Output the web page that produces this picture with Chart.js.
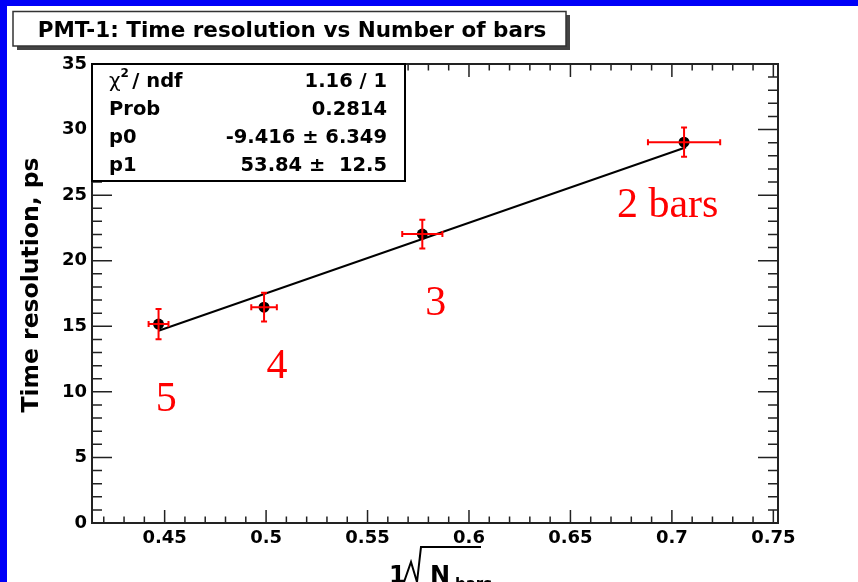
<!DOCTYPE html>
<html><head><meta charset="utf-8">
<script src="https://cdn.jsdelivr.net/npm/chart.js@4.4.1/dist/chart.umd.min.js"></script>
<style>html,body{margin:0;padding:0;background:#fff;overflow:hidden}canvas{display:block}</style>
</head><body>
<canvas id="c" width="858" height="582"></canvas>
<script>
// ---- data ----
const nBars     = [5, 4, 3, 2];
const invSqrtN  = [0.447, 0.499, 0.577, 0.706];
const timeRes   = [15.17, 16.46, 22.03, 29.04];
const xErr      = [0.0049, 0.0063, 0.0099, 0.0178];
const yErr      = [1.15, 1.09, 1.10, 1.12];
const fitX      = [0.447, 0.707];
const fitY      = [14.66, 28.65];
const xTicks    = [0.45, 0.5, 0.55, 0.6, 0.65, 0.7, 0.75];
const yTicks    = [0, 5, 10, 15, 20, 25, 30, 35];
const pointLabels = ['5', '4', '3', '2 bars'];
const pointLabelX = [0.4456, 0.5002, 0.5784, 0.6729];
const pointLabelY = [8.56, 11.07, 15.88, 23.35];
const statNames  = ['χ2 / ndf', 'Prob', 'p0', 'p1'];
const statValues = ['1.16 / 1', '0.2814', '-9.416 ± 6.349', '53.84 ±  12.5'];
const titleText  = 'PMT-1: Time resolution vs Number of bars';
const yTitle     = 'Time resolution, ps';

const FONT = "'DejaVu Sans', sans-serif";

const decor = {
  id: 'decor',
  beforeDraw(chart) {
    const ctx = chart.ctx;
    ctx.save();
    ctx.fillStyle = '#fff';
    ctx.fillRect(0, 0, chart.width, chart.height);
    ctx.fillStyle = '#0000f8';
    ctx.fillRect(0, 0, chart.width, 6);
    ctx.fillRect(0, 0, 7, chart.height);
    ctx.restore();
  },
  afterDatasetsDraw(chart) {
    const ctx = chart.ctx, xs = chart.scales.x, ys = chart.scales.y;
    const a = chart.chartArea;
    ctx.save();
    // error bars
    ctx.strokeStyle = '#ff0000';
    ctx.lineWidth = 2;
    for (let i = 0; i < invSqrtN.length; i++) {
      const px = xs.getPixelForValue(invSqrtN[i]);
      const py = ys.getPixelForValue(timeRes[i]);
      const x1 = xs.getPixelForValue(invSqrtN[i] - xErr[i]);
      const x2 = xs.getPixelForValue(invSqrtN[i] + xErr[i]);
      const y1 = ys.getPixelForValue(timeRes[i] - yErr[i]);
      const y2 = ys.getPixelForValue(timeRes[i] + yErr[i]);
      ctx.beginPath();
      ctx.moveTo(x1, py); ctx.lineTo(x2, py);
      ctx.moveTo(px, y1); ctx.lineTo(px, y2);
      ctx.moveTo(x1, py - 3); ctx.lineTo(x1, py + 3);
      ctx.moveTo(x2, py - 3); ctx.lineTo(x2, py + 3);
      ctx.moveTo(px - 3, y1); ctx.lineTo(px + 3, y1);
      ctx.moveTo(px - 3, y2); ctx.lineTo(px + 3, y2);
      ctx.stroke();
    }
    // frame
    ctx.strokeStyle = '#222';
    ctx.lineWidth = 2;
    ctx.strokeRect(a.left, a.top, a.right - a.left, a.bottom - a.top);
    // ticks
    ctx.lineWidth = 1.5;
    ctx.beginPath();
    for (let k = Math.ceil(xs.min / 0.01 - 1e-6); k * 0.01 <= xs.max + 1e-9; k++) {
      const p = xs.getPixelForValue(k * 0.01);
      const L = (k % 5 === 0) ? 13 : 6.5;
      ctx.moveTo(p, a.bottom); ctx.lineTo(p, a.bottom - L);
      ctx.moveTo(p, a.top); ctx.lineTo(p, a.top + L);
    }
    for (let k = Math.ceil(ys.min); k <= ys.max; k++) {
      const p = ys.getPixelForValue(k);
      const L = (k % 5 === 0) ? 20 : 10;
      ctx.moveTo(a.left, p); ctx.lineTo(a.left + L, p);
      ctx.moveTo(a.right, p); ctx.lineTo(a.right - L, p);
    }
    ctx.stroke();

    // point annotations
    ctx.fillStyle = '#ff0000';
    ctx.font = "42px 'Liberation Serif', 'Times New Roman', serif";
    ctx.textAlign = 'left';
    ctx.textBaseline = 'alphabetic';
    for (let i = 0; i < pointLabels.length; i++) {
      ctx.fillText(pointLabels[i], xs.getPixelForValue(pointLabelX[i]), ys.getPixelForValue(pointLabelY[i]));
    }

    // stats box
    const bx = a.left, by = a.top, bw = 313, bh = 117;
    ctx.fillStyle = '#fff';
    ctx.fillRect(bx, by, bw, bh);
    ctx.strokeStyle = '#000';
    ctx.lineWidth = 2;
    ctx.strokeRect(bx, by, bw, bh);
    ctx.fillStyle = '#000';
    const rowY = [87, 115, 143, 171];
    for (let i = 0; i < statNames.length; i++) {
      ctx.textAlign = 'left';
      if (i === 0) {
        ctx.font = "20px " + FONT;
        ctx.fillText('χ', 109, rowY[i]);
        const w = ctx.measureText('χ').width;
        ctx.font = "bold 12px " + FONT;
        ctx.fillText('2', 109 + w, rowY[i] - 10);
        ctx.font = "bold 19.5px " + FONT;
        ctx.fillText(' / ndf', 109 + w + 5, rowY[i]);
      } else {
        ctx.font = "bold 19.5px " + FONT;
        ctx.fillText(statNames[i], 109, rowY[i]);
      }
      ctx.font = "bold 19.5px " + FONT;
      ctx.textAlign = 'right';
      ctx.fillText(statValues[i], 387, rowY[i]);
    }
    ctx.restore();
  },
  afterDraw(chart) {
    const ctx = chart.ctx;
    ctx.save();
    // title box
    ctx.fillStyle = '#444';
    ctx.fillRect(17, 15, 553, 35);
    ctx.fillStyle = '#fff';
    ctx.fillRect(13, 11.5, 553, 34.5);
    ctx.strokeStyle = '#333';
    ctx.lineWidth = 1.5;
    ctx.strokeRect(13, 11.5, 553, 34.5);
    ctx.fillStyle = '#000';
    ctx.font = "bold 21.5px " + FONT;
    ctx.textAlign = 'center';
    ctx.textBaseline = 'alphabetic';
    ctx.fillText(titleText, 292, 37);

    // y title
    ctx.save();
    ctx.translate(38, 285);
    ctx.rotate(-Math.PI / 2);
    ctx.font = "bold 23.5px " + FONT;
    ctx.textAlign = 'center';
    ctx.fillText(yTitle, 0, 0);
    ctx.restore();

    // x title: 1/sqrt(N_bars)
    ctx.font = "bold 24px " + FONT;
    ctx.textAlign = 'left';
    ctx.fillText('1', 389, 583);
    ctx.strokeStyle = '#000';
    ctx.lineWidth = 2;
    ctx.beginPath();
    ctx.moveTo(404, 582); ctx.lineTo(411, 562);
    ctx.lineTo(417, 582);
    ctx.lineTo(421, 547);
    ctx.lineTo(481, 547);
    ctx.stroke();
    ctx.fillText('N', 430, 583);
    ctx.font = "bold 15px " + FONT;
    ctx.fillText('bars', 455, 589);
    ctx.restore();
  }
};

const fmt = v => String(+v.toFixed(2));

new Chart(document.getElementById('c'), {
  type: 'scatter',
  data: {
    datasets: [
      {
        type: 'line',
        data: fitX.map((x, i) => ({ x, y: fitY[i] })),
        borderColor: '#000',
        borderWidth: 2,
        pointRadius: 0,
        fill: false
      },
      {
        data: invSqrtN.map((x, i) => ({ x, y: timeRes[i] })),
        pointRadius: 5.5,
        pointBackgroundColor: '#000',
        pointBorderColor: '#000',
        pointBorderWidth: 0
      }
    ]
  },
  options: {
    responsive: false,
    animation: false,
    devicePixelRatio: 1,
    layout: { padding: { left: 0, top: 64, right: 80, bottom: 0 } },
    plugins: { legend: { display: false }, title: { display: false }, tooltip: { enabled: false } },
    scales: {
      x: {
        type: 'linear',
        min: 0.4142,
        max: 0.7523,
        afterBuildTicks: s => { s.ticks = xTicks.map(v => ({ value: v })); },
        afterFit: s => { s.height = 59; },
        grid: { display: false, drawTicks: false },
        border: { display: false },
        ticks: {
          autoSkip: false, maxRotation: 0, padding: 5,
          color: '#000',
          font: { family: 'DejaVu Sans', weight: 'bold', size: 18 },
          callback: v => fmt(v)
        }
      },
      y: {
        type: 'linear',
        min: 0,
        max: 35,
        afterBuildTicks: s => { s.ticks = yTicks.map(v => ({ value: v })); },
        afterFit: s => { s.width = 92; },
        grid: { display: false, drawTicks: false },
        border: { display: false },
        ticks: {
          autoSkip: false, padding: 5,
          color: '#000',
          font: { family: 'DejaVu Sans', weight: 'bold', size: 18 },
          callback: v => fmt(v)
        }
      }
    }
  },
  plugins: [decor]
});
</script>
</body></html>
